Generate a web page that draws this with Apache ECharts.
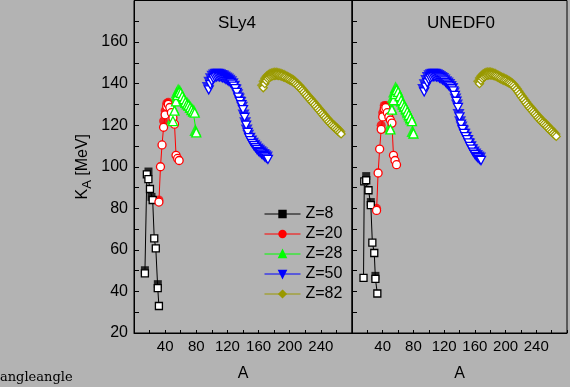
<!DOCTYPE html>
<html><head><meta charset="utf-8">
<script src="https://cdn.jsdelivr.net/npm/echarts@6/dist/echarts.min.js"></script>
<style>html,body{margin:0;padding:0;background:#b3b3b3}#c{width:570px;height:387px}</style>
</head><body><div id="c"></div>
<script>
// ---- labels ----
const panelTitles = ['SLy4', 'UNEDF0'];
const seriesNames = ['Z=8', 'Z=20', 'Z=28', 'Z=50', 'Z=82'];
const xTickLabels = [40, 80, 120, 160, 200, 240];
const yTickLabels = [20, 40, 60, 80, 100, 120, 140, 160];

// ---- SLy4 ----
const sly_z8_A = [14, 16.5, 18.5, 20.5, 24, 26, 28, 30.5, 32];
const sly_z8_K = [48.7, 96.3, 94, 89.3, 84, 65.5, 60.7, 41.6, 33];
const sly_z8f_A = [14, 18.6, 22.5, 30.6];
const sly_z8f_K = [50.2, 97.7, 85.5, 43.5];

const sly_z20_A = [32, 34, 36, 38, 40, 42, 44, 46, 48, 50, 52, 54, 56, 58];
const sly_z20_K = [83, 100, 110.5, 119, 125, 129, 130, 128.5, 126, 123.5, 120.5, 105.5, 104, 103];
const sly_z20f_A = [32, 38, 40, 42, 44];
const sly_z20f_K = [84, 122, 127, 130.5, 131];

const sly_z28_A = [50, 52, 54, 56, 58, 60, 62, 64, 66, 68, 70, 72, 74, 76, 78, 80];
const sly_z28_K = [122, 127, 131.5, 134.5, 136, 135.5, 134, 132.5, 131, 130, 129.5, 128.5, 127.5, 126.5, 126, 116.5];

const sly_z50_A = [96, 98, 100, 102, 104, 106, 108, 110, 112, 114, 116, 118, 120, 122, 124, 126, 128, 130, 132, 134, 136, 138, 140, 142, 144, 146, 148, 150, 152, 154, 156, 158, 160, 162, 164, 166, 168, 170, 172];
const sly_z50_K = [137, 139.5, 141.2, 142.4, 143, 143.3, 143.4, 143.3, 143.1, 142.8, 142.5, 142, 141.6, 141.1, 140.5, 139.8, 138.8, 137.6, 135.8, 133.5, 131.5, 129.8, 127.5, 123.8, 120, 116.5, 114, 112.5, 111.2, 110.2, 109.2, 108.3, 107.4, 106.8, 106.1, 105.5, 104.8, 104.1, 103.5];

const sly_z82_A = [166, 168, 170, 172, 174, 176, 178, 180, 182, 184, 186, 188, 190, 192, 194, 196, 198, 200, 202, 204, 206, 208, 210, 212, 214, 216, 218, 220, 222, 224, 226, 228, 230, 232, 234, 236, 238, 240, 242, 244, 246, 248, 250, 252, 254, 256, 258, 260, 262, 264, 266];
const sly_z82_K = [138, 140, 141.4, 142.4, 143, 143.4, 143.7, 143.9, 144, 144, 143.9, 143.7, 143.5, 143.2, 142.9, 142.5, 142.1, 141.7, 141.3, 140.9, 140.4, 139.7, 139, 138.2, 137.5, 136.7, 135.8, 134.9, 134, 133.1, 132.2, 131.4, 130.6, 129.7, 128.8, 127.9, 127, 126.1, 125.2, 124.3, 123.4, 122.5, 121.6, 120.8, 120, 119.3, 118.6, 117.9, 117.2, 116.5, 115.8];

// ---- UNEDF0 ----
const une_z8_A = [15, 16, 18.5, 21.5, 24.5, 26.5, 29, 30.5, 33];
const une_z8_K = [46.5, 93, 93.5, 88.7, 81.5, 63.5, 58.5, 46, 39];
const une_z8f_A = [18.5, 24.5, 30.5];
const une_z8f_K = [95.5, 83, 47.5];

const une_z20_A = [32, 34, 36, 38, 40, 42, 44, 46, 48, 50, 52, 54, 56, 58];
const une_z20_K = [79, 97, 108.5, 118, 124, 128, 128.5, 126, 124, 122.5, 121, 105.5, 103, 101];
const une_z20f_A = [32, 38, 40, 42, 44];
const une_z20f_K = [80, 120, 126, 129.5, 129.5];

const une_z28_A = [50, 52, 54, 56, 58, 60, 62, 64, 66, 68, 70, 72, 74, 76, 78, 80];
const une_z28_K = [118, 127.5, 132, 135, 137, 136, 134, 132, 130.5, 129, 128, 126.5, 125, 123.5, 122, 116];

const une_z50_A = [94, 96, 98, 100, 102, 104, 106, 108, 110, 112, 114, 116, 118, 120, 122, 124, 126, 128, 130, 132, 134, 136, 138, 140, 142, 144, 146, 148, 150, 152, 154, 156, 158, 160, 162, 164, 166, 168];
const une_z50_K = [136, 138.3, 140.4, 141.8, 142.6, 143.1, 143.4, 143.4, 143.3, 143.1, 142.7, 142.3, 141.8, 141.3, 140.6, 139.8, 139.1, 138.4, 137.5, 136.5, 134.3, 131.5, 128.5, 124, 120.5, 118, 116, 114.5, 113, 111.5, 109.8, 108.5, 107, 106, 105, 104.3, 103.5, 103];

const une_z82_A = [166, 168, 170, 172, 174, 176, 178, 180, 182, 184, 186, 188, 190, 192, 194, 196, 198, 200, 202, 204, 206, 208, 210, 212, 214, 216, 218, 220, 222, 224, 226, 228, 230, 232, 234, 236, 238, 240, 242, 244, 246, 248, 250, 252, 254, 256, 258, 260, 262, 264, 266];
const une_z82_K = [140, 141.5, 142.5, 143.2, 143.7, 144, 144.1, 144.1, 144.1, 143.9, 143.7, 143.4, 143, 142.6, 142.2, 141.8, 141.5, 141.2, 140.8, 140.4, 140, 139.5, 138.9, 138.1, 137.2, 136.2, 135.1, 134, 133, 132, 130.9, 129.9, 128.9, 128, 127.2, 126.3, 125.4, 124.5, 123.6, 122.8, 122, 121.2, 120.5, 119.8, 119.1, 118.3, 117.5, 116.8, 116, 115.3, 114.6];

// ---- styles ----
const colors = ['#000000', '#ff0000', '#00ff00', '#0000ff', '#999900'];
const symbols = ['rect', 'circle', 'triangle', 'path://M0,0L10,0L5,9Z', 'diamond'];
const symSizes = [7, 8, 9, 9, 8];
const FONT = 'Liberation Sans, Arial, sans-serif';

const zip = (a, b) => a.map((v, i) => [v, b[i]]);

const panelData = [
  {open: [[sly_z8_A, sly_z8_K], [sly_z20_A, sly_z20_K], [sly_z28_A, sly_z28_K], [sly_z50_A, sly_z50_K], [sly_z82_A, sly_z82_K]],
   filled: [[sly_z8f_A, sly_z8f_K], [sly_z20f_A, sly_z20f_K], null, null, null]},
  {open: [[une_z8_A, une_z8_K], [une_z20_A, une_z20_K], [une_z28_A, une_z28_K], [une_z50_A, une_z50_K], [une_z82_A, une_z82_K]],
   filled: [[une_z8f_A, une_z8f_K], [une_z20f_A, une_z20f_K], null, null, null]}
];

const series = [];
panelData.forEach((pd, p) => {
  pd.open.forEach((arr, i) => {
    series.push({
      type: 'line', name: seriesNames[i], xAxisIndex: p, yAxisIndex: p,
      data: zip(arr[0], arr[1]), symbol: symbols[i], symbolSize: symSizes[i],
      symbolKeepAspect: true, showAllSymbol: true, z: 3,
      itemStyle: {color: '#ffffff', borderColor: colors[i], borderWidth: 1.3},
      lineStyle: {color: colors[i], width: 1}
    });
  });
});
panelData.forEach((pd, p) => {
  pd.filled.forEach((arr, i) => {
    const useOffset = !arr;
    const src = arr || pd.open[i];
    series.push({
      type: 'scatter', name: seriesNames[i], xAxisIndex: p, yAxisIndex: p,
      data: zip(src[0], src[1]), symbol: symbols[i], symbolSize: symSizes[i] + (useOffset ? 3 : 1),
      symbolKeepAspect: true, z: 2,
      symbolOffset: useOffset ? [-1, -2.5] : [0, 0],
      itemStyle: {color: colors[i]}
    });
  });
});

const grids = [
  {left: 134, top: 0.5, width: 218, height: 335},
  {left: 352, top: 0.5, width: 218, height: 335}
].map(g => Object.assign(g, {show: true, borderColor: '#000', borderWidth: 1, backgroundColor: 'transparent'}));

const xAxes = [0, 1].map(p => ({
  type: 'value', gridIndex: p, min: 0, max: 280, interval: 40,
  axisLine: {show: true, onZero: false, lineStyle: {color: '#000', width: 1}},
  axisTick: {show: true, inside: true, length: 3, lineStyle: {color: '#000'}},
  minorTick: {show: true, splitNumber: 2, length: 3, lineStyle: {color: '#000'}},
  splitLine: {show: false},
  axisLabel: {formatter: v => xTickLabels.includes(v) ? String(v) : '', fontSize: 15, color: '#000', fontFamily: FONT, margin: 6},
  name: 'A', nameLocation: 'middle', nameGap: 33,
  nameTextStyle: {fontSize: 16, color: '#000', fontFamily: FONT}
}));

const yAxes = [0, 1].map(p => ({
  type: 'value', gridIndex: p, min: 20, max: 180, interval: 20,
  axisLine: {show: true, onZero: false, lineStyle: {color: '#000', width: 1}},
  axisTick: {show: true, inside: true, length: 5, lineStyle: {color: '#000'}},
  minorTick: {show: true, splitNumber: 2, length: 5, lineStyle: {color: '#000'}},
  splitLine: {show: false},
  axisLabel: {show: p === 0, formatter: v => yTickLabels.includes(v) ? String(v) : '', fontSize: 16, color: '#000', fontFamily: FONT, margin: 6},
  name: p === 0 ? '{a|K}{b|A}{a| [MeV]}' : '', nameLocation: 'middle', nameRotate: 90, nameGap: 40,
  nameTextStyle: {color: '#000', fontFamily: FONT, rich: {
    a: {fontSize: 16, color: '#000', fontFamily: FONT},
    b: {fontSize: 13, color: '#000', fontFamily: FONT, padding: [9, 0, 0, 0]}
  }}
}));

const chart = echarts.init(document.getElementById('c'), null, {renderer: 'canvas'});
chart.setOption({
  animation: false,
  backgroundColor: '#b3b3b3',
  grid: grids, xAxis: xAxes, yAxis: yAxes, series: series,
  legend: {
    orient: 'vertical', left: 259, top: 200, itemWidth: 36, itemHeight: 8, itemGap: 2,
    textStyle: {fontSize: 16, lineHeight: 18, color: '#000', fontFamily: FONT},
    data: seriesNames.map((n, i) => ({name: n, itemStyle: {color: colors[i], borderColor: colors[i]}, lineStyle: {color: colors[i], width: 1}}))
  },
  graphic: [
    {type: 'text', x: 237, y: 23, style: {text: panelTitles[0], fontSize: 17, fontFamily: FONT, fill: '#000', textAlign: 'center', textVerticalAlign: 'middle'}},
    {type: 'text', x: 461, y: 23, style: {text: panelTitles[1], fontSize: 17, fontFamily: FONT, fill: '#000', textAlign: 'center', textVerticalAlign: 'middle'}},
    {type: 'text', x: 0, y: 378, style: {text: 'angleangle', fontSize: 13, fontFamily: 'DejaVu Serif, serif', fill: '#000', textVerticalAlign: 'middle'}}
  ]
});
</script></body></html>
